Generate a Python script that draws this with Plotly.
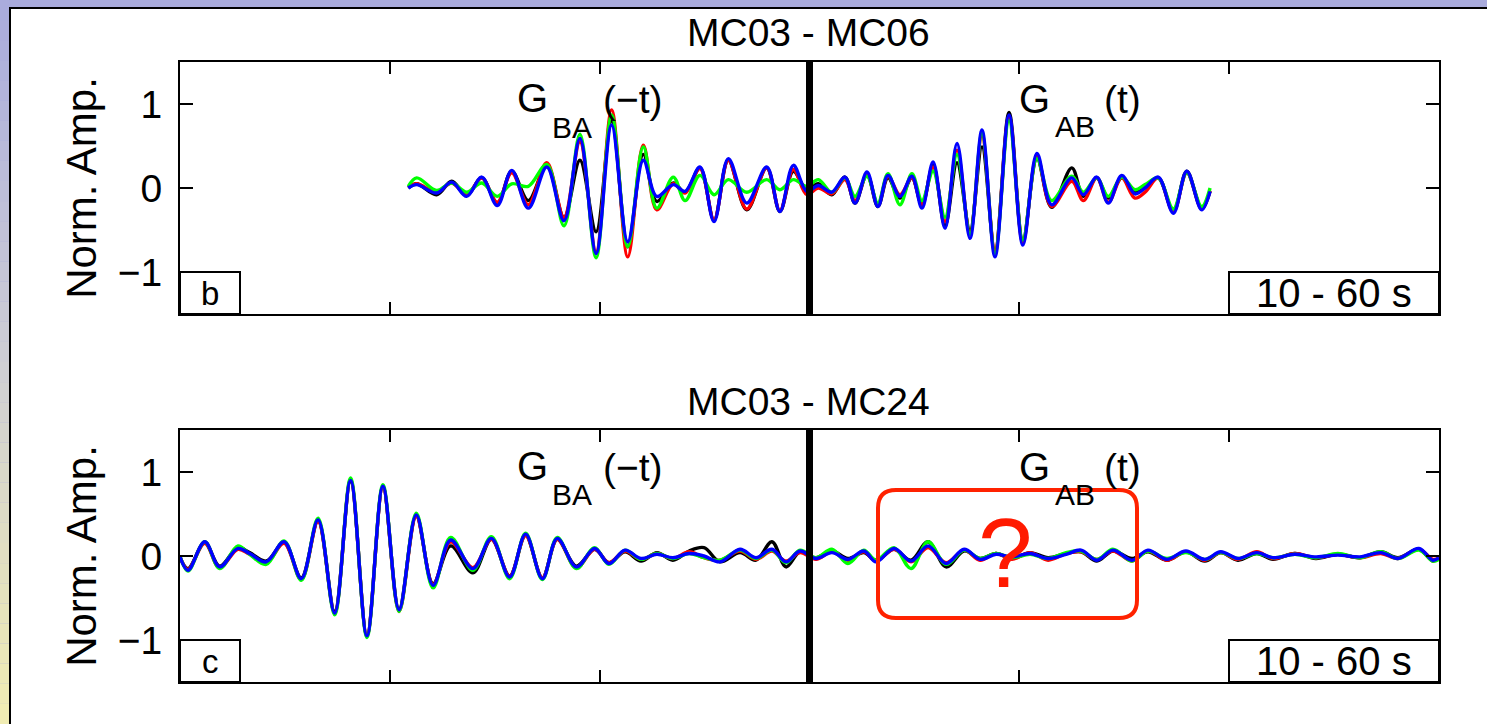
import plotly.graph_objects as go

# ---------------- data ----------------
titles = ["MC03 - MC06", "MC03 - MC24"]
panel_labels = ["b", "c"]
band_label = "10 - 60 s"
y_ticks = [-1, 0, 1]
x_ticks = [-200, -100, 0, 100, 200]
x_range = [-300, 300]
y_range = [-1.5, 1.5]

# panel b : MC03 - MC06  (time lag, normalised amplitude at waveform extrema)
t_top = [-191.2, -187.2, -177.7, -170.5, -163.4, -156.2, -148.8, -141.9, -134.0, -125.2,
         -117.0, -109.4, -101.7, -94.3, -86.6, -79.2, -72.8, -64.9, -59.3, -52.2,
         -45.5, -38.7, -29.9, -20.4, -14.1, -7.7, -1.3,
         4.2, 10.6, 16.9, 21.7, 27.4, 32.6, 37.4, 43.1, 48.8, 53.6,
         58.9, 64.6, 70.3, 76.5, 82.2, 88.4, 95.1, 101.7, 108.4, 115.4,
         125.0, 130.5, 136.9, 142.4, 148.8, 155.1, 159.9, 166.2, 173.4, 179.8,
         186.9, 190.9]
top_black = [0.00, 0.05, -0.08, 0.08, -0.09, 0.12, -0.18, 0.20, -0.15, 0.27,
             -0.35, 0.33, -0.52, 0.80, -0.70, 0.40, -0.16, 0.06, -0.05, 0.24,
             -0.38, 0.33, -0.26, 0.24, -0.28, 0.20, -0.02,
             0.05, -0.08, 0.13, -0.18, 0.16, -0.22, 0.12, -0.12, 0.12, -0.20,
             0.27, -0.45, 0.30, -0.50, 0.49, -0.75, 0.90, -0.62, 0.35, -0.23,
             0.24, -0.10, 0.12, -0.12, 0.12, -0.05, 0.02, 0.12, -0.28, 0.20,
             -0.25, -0.04]
top_red = [0.01, 0.05, -0.05, 0.06, -0.08, 0.12, -0.17, 0.18, -0.20, 0.30,
           -0.35, 0.55, -0.76, 0.93, -0.82, 0.51, -0.26, 0.05, -0.06, 0.23,
           -0.38, 0.33, -0.25, 0.24, -0.27, 0.22, -0.08,
           0.00, -0.07, 0.10, -0.15, 0.16, -0.20, 0.14, -0.08, 0.12, -0.20,
           0.25, -0.40, 0.45, -0.55, 0.62, -0.75, 0.85, -0.65, 0.38, -0.22,
           0.08, -0.15, 0.12, -0.17, 0.12, -0.12, -0.05, 0.12, -0.28, 0.18,
           -0.24, -0.03]
top_green = [0.02, 0.12, -0.03, 0.06, -0.05, 0.06, -0.10, 0.05, 0.02, 0.28,
             -0.45, 0.64, -0.83, 0.87, -0.70, 0.49, -0.24, 0.13, -0.15, 0.15,
             -0.08, 0.10, -0.05, 0.10, -0.02, 0.10, 0.02,
             0.10, -0.05, 0.12, -0.10, 0.14, -0.18, 0.17, -0.20, 0.17, -0.15,
             0.20, -0.35, 0.40, -0.55, 0.65, -0.78, 0.80, -0.62, 0.35, -0.15,
             0.14, -0.05, 0.12, -0.10, 0.13, -0.02, 0.04, 0.12, -0.25, 0.18,
             -0.22, 0.00]
top_blue = [0.00, 0.04, -0.06, 0.07, -0.10, 0.13, -0.21, 0.21, -0.24, 0.25,
            -0.39, 0.59, -0.78, 0.75, -0.64, 0.33, -0.10, 0.04, -0.04, 0.25,
            -0.40, 0.35, -0.18, 0.25, -0.28, 0.27, -0.04,
            0.03, -0.05, 0.13, -0.18, 0.19, -0.22, 0.15, -0.10, 0.14, -0.24,
            0.31, -0.48, 0.53, -0.60, 0.69, -0.82, 0.87, -0.68, 0.41, -0.20,
            0.12, -0.08, 0.13, -0.18, 0.15, -0.07, 0.00, 0.13, -0.30, 0.20,
            -0.26, -0.04]

# panel c : MC03 - MC24
t_bot = [-300.0, -296.2, -288.2, -281.1, -272.4, -266.8, -258.9, -250.4, -242.2, -234.2,
         -226.3, -218.7, -210.9, -203.3, -195.6, -187.4, -179.4, -171.0, -160.4, -151.6,
         -142.9, -135.3, -127.3, -120.2, -111.1, -102.4,
         -95.6, -87.9, -80.3, -72.7, -65.1, -57.4, -50.3, -42.7, -33.1, -25.5,
         -17.9, -11.2, -4.5,
         3.1, 10.7, 18.3, 25.9, 31.7, 40.3, 48.4, 56.5, 65.1, 73.7,
         81.3, 88.9, 96.5, 105.1, 113.7, 122.3, 129.4, 137.0, 144.6, 153.7,
         161.3, 170.3, 179.4, 188.4, 196.0, 204.2, 213.2, 220.8, 231.3, 241.3,
         251.8, 262.3, 272.3, 280.4, 290.4, 297.1, 300.0]
bot_black = [-0.02, -0.15, 0.16, -0.12, 0.10, 0.04, -0.06, 0.16, -0.26, 0.42,
             -0.66, 0.89, -0.94, 0.82, -0.63, 0.48, -0.33, 0.12, -0.20, 0.20,
             -0.24, 0.25, -0.26, 0.20, -0.12, 0.08,
             -0.08, 0.05, -0.06, 0.04, -0.05, 0.06, 0.10, -0.07, 0.04, -0.05,
             0.17, -0.13, 0.05,
             -0.02, 0.06, -0.03, 0.04, -0.05, 0.08, -0.05, 0.17, -0.13, 0.06,
             -0.03, 0.03, -0.03, 0.04, -0.02, 0.03, 0.05, -0.06, 0.06, -0.03,
             0.05, -0.05, 0.05, -0.06, 0.04, -0.05, 0.03, -0.04, 0.03, -0.03,
             0.02, -0.02, 0.05, -0.02, 0.08, -0.06, -0.03]
bot_red = [-0.01, -0.16, 0.15, -0.14, 0.08, 0.02, -0.08, 0.15, -0.28, 0.41,
           -0.68, 0.91, -0.95, 0.82, -0.66, 0.47, -0.34, 0.17, -0.14, 0.20,
           -0.24, 0.24, -0.26, 0.20, -0.14, 0.08,
           -0.08, 0.06, -0.04, 0.03, -0.03, 0.05, -0.02, -0.05, 0.06, -0.04,
           0.06, -0.06, 0.04,
           -0.04, 0.05, -0.05, 0.05, -0.06, 0.08, -0.07, 0.10, -0.08, 0.07,
           -0.05, 0.03, -0.04, 0.04, -0.05, 0.03, 0.05, -0.04, 0.06, -0.06,
           0.06, -0.05, 0.05, -0.05, 0.04, -0.04, 0.05, -0.03, 0.03, -0.02,
           0.02, -0.02, 0.03, -0.03, 0.08, -0.04, -0.02]
bot_green = [0.00, -0.18, 0.17, -0.15, 0.12, 0.02, -0.10, 0.18, -0.29, 0.45,
             -0.70, 0.93, -0.97, 0.85, -0.66, 0.51, -0.38, 0.22, -0.17, 0.23,
             -0.27, 0.27, -0.28, 0.22, -0.15, 0.10,
             -0.10, 0.07, -0.04, 0.03, -0.03, 0.03, -0.02, -0.05, 0.07, -0.03,
             0.07, -0.08, 0.07,
             -0.02, 0.08, -0.09, 0.07, -0.05, 0.10, -0.15, 0.17, -0.10, 0.07,
             -0.03, 0.03, -0.02, 0.02, -0.03, 0.04, 0.06, -0.04, 0.08, -0.06,
             0.06, -0.03, 0.04, -0.04, 0.04, -0.03, 0.03, -0.02, 0.02, -0.02,
             0.03, -0.02, 0.05, -0.03, 0.07, -0.06, -0.04]
bot_blue = [-0.01, -0.17, 0.17, -0.13, 0.09, 0.03, -0.07, 0.17, -0.27, 0.43,
            -0.68, 0.90, -0.95, 0.83, -0.64, 0.49, -0.35, 0.19, -0.15, 0.21,
            -0.25, 0.26, -0.27, 0.21, -0.13, 0.09,
            -0.09, 0.07, -0.03, 0.02, -0.02, 0.03, 0.00, -0.07, 0.08, -0.02,
            0.08, -0.07, 0.06,
            -0.03, 0.04, -0.04, 0.06, -0.07, 0.09, -0.06, 0.12, -0.09, 0.08,
            -0.04, 0.02, -0.01, 0.03, -0.03, 0.02, 0.07, -0.05, 0.07, -0.05,
            0.07, -0.04, 0.06, -0.04, 0.05, -0.03, 0.04, -0.02, 0.02, -0.01,
            0.01, -0.01, 0.04, -0.03, 0.09, -0.05, -0.02]

series_colors = {"black": "#000000", "red": "#ff0000", "green": "#00ff00", "blue": "#0000ff"}

# ---------------- layout helpers ----------------
W, H = 1487, 724
FONT = "Liberation Sans, Arial, Helvetica, sans-serif"


def px(x):
    return x / W


def py(y):
    return 1 - y / H


fig = go.Figure()

panels = [
    (t_top, {"black": top_black, "red": top_red, "green": top_green, "blue": top_blue}, "x", "y"),
    (t_bot, {"black": bot_black, "red": bot_red, "green": bot_green, "blue": bot_blue}, "x2", "y2"),
]
for t, ser, xa, ya in panels:
    for name in ["black", "red", "green", "blue"]:
        fig.add_trace(go.Scatter(
            x=t, y=ser[name], mode="lines", xaxis=xa, yaxis=ya,
            line=dict(color=series_colors[name], width=3.4, shape="spline", smoothing=1.0),
            showlegend=False, hoverinfo="skip"))

axis_common = dict(showline=True, linecolor="black", linewidth=2, mirror="ticks",
                   ticks="inside", tickcolor="black", tickwidth=2,
                   showgrid=False, zeroline=False)

top_dom = [py(314), py(62)]
bot_dom = [py(682), py(430)]
x_dom = [px(180), px(1439)]

ytitle = dict(text="Norm. Amp.", font=dict(size=42, family=FONT), standoff=8)

fig.update_layout(
    width=W, height=H,
    margin=dict(l=0, r=0, t=0, b=0),
    paper_bgcolor="#a9abdc",
    plot_bgcolor="white",
    font=dict(family=FONT, color="black", size=38),
    xaxis=dict(domain=x_dom, range=x_range, tickvals=x_ticks, showticklabels=False,
               ticklen=12, anchor="y", **axis_common),
    yaxis=dict(domain=top_dom, range=y_range, tickvals=y_ticks, ticklen=13, anchor="x",
               tickfont=dict(size=39, family=FONT), ticklabelstandoff=8,
               title=ytitle, **axis_common),
    xaxis2=dict(domain=x_dom, range=x_range, tickvals=x_ticks, showticklabels=False,
                ticklen=12, anchor="y2", **axis_common),
    yaxis2=dict(domain=bot_dom, range=y_range, tickvals=y_ticks, ticklen=13, anchor="x2",
                tickfont=dict(size=39, family=FONT), ticklabelstandoff=8,
                title=ytitle, **axis_common),
)

shapes = []
# slide background: white frame + gradient strip on the left
shapes.append(dict(type="rect", xref="paper", yref="paper", x0=px(10), x1=px(1500),
                   y0=py(740), y1=py(8), fillcolor="white",
                   line=dict(color="black", width=2), layer="below"))
stops = [(0, (169, 171, 221)), (360, (206, 206, 212)), (724, (241, 237, 178))]
nb = 36
for i in range(nb):
    y0p = i * H / nb
    y1p = (i + 1) * H / nb
    ym = (y0p + y1p) / 2
    if ym <= stops[1][0]:
        a, b = stops[0], stops[1]
    else:
        a, b = stops[1], stops[2]
    f = (ym - a[0]) / (b[0] - a[0])
    c = tuple(int(round(a[1][k] + f * (b[1][k] - a[1][k]))) for k in range(3))
    shapes.append(dict(type="rect", xref="paper", yref="paper", x0=0, x1=px(9),
                       y0=py(y1p), y1=py(y0p), fillcolor="rgb(%d,%d,%d)" % c,
                       line=dict(width=0), layer="below"))

annotations = []
for k, (xa, ya, top) in enumerate([("x", "y", 62), ("x2", "y2", 430)]):
    # zero-lag bar
    shapes.append(dict(type="line", xref=xa, yref=ya + " domain", x0=0, x1=0, y0=0, y1=1,
                       line=dict(color="black", width=7), layer="above"))
    # panel letter box and band box
    shapes.append(dict(type="rect", xref="paper", yref="paper", x0=px(180), x1=px(240),
                       y0=py(top + 252), y1=py(top + 210), fillcolor="white",
                       line=dict(color="black", width=2), layer="above"))
    shapes.append(dict(type="rect", xref="paper", yref="paper", x0=px(1229), x1=px(1439),
                       y0=py(top + 252), y1=py(top + 210), fillcolor="white",
                       line=dict(color="black", width=2), layer="above"))
    annotations.append(dict(text=panel_labels[k], x=px(210), y=py(top + 231), xref="paper", yref="paper",
                            showarrow=False, font=dict(size=33), xanchor="center", yanchor="middle"))
    annotations.append(dict(text=band_label, x=px(1334), y=py(top + 231), xref="paper", yref="paper",
                            showarrow=False, font=dict(size=40), xanchor="center", yanchor="middle"))
    # title
    annotations.append(dict(text=titles[k], x=px(808), y=py(top - 29), xref="paper", yref="paper",
                            showarrow=False, font=dict(size=39), xanchor="center", yanchor="middle"))
    # Green's function labels
    d = top - 62
    for txt, cx, cy, fs in [("G", 532, 98, 40), ("BA", 572, 127, 30), ("(\u2212t)", 633, 99, 39),
                            ("G", 1034, 99, 40), ("AB", 1075, 126, 30), ("(t)", 1122, 99, 39)]:
        annotations.append(dict(text=txt, x=px(cx), y=py(cy + d), xref="paper", yref="paper",
                                showarrow=False, font=dict(size=fs), xanchor="center", yanchor="middle"))

# red rounded box with question mark (panel c)
x0, x1, y0, y1, r = 878, 1137, 490, 618, 18
path = ("M {a},{b} L {c},{b} Q {d},{b} {d},{e} L {d},{f} Q {d},{g} {c},{g} "
        "L {a},{g} Q {h},{g} {h},{f} L {h},{e} Q {h},{b} {a},{b} Z").format(
    a=px(x0 + r), b=py(y0), c=px(x1 - r), d=px(x1), e=py(y0 + r), f=py(y1 - r), g=py(y1), h=px(x0))
shapes.append(dict(type="path", xref="paper", yref="paper", path=path,
                   line=dict(color="#ff2200", width=4), layer="above"))
annotations.append(dict(text="?", x=px(1005), y=py(553), xref="paper", yref="paper", showarrow=False,
                        font=dict(size=98, color="#ff1a00"), xanchor="center", yanchor="middle"))

fig.update_layout(shapes=shapes, annotations=annotations)
fig.write_html("out.html")
